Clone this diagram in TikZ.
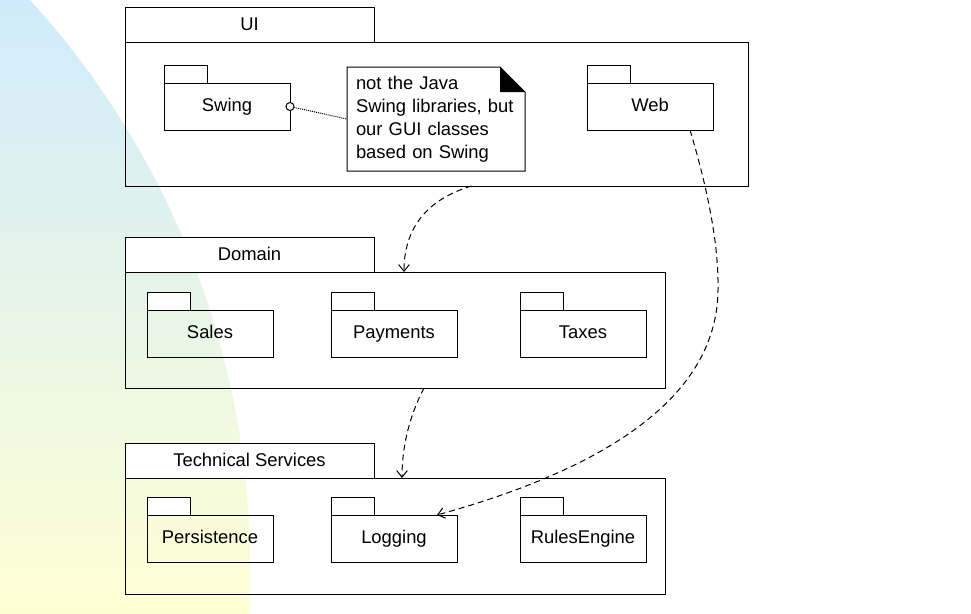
\documentclass[tikz,border=0pt]{standalone}
\usepackage{fontspec}
\setmainfont{Liberation Sans}
\usetikzlibrary{arrows.meta,positioning,calc}
\definecolor{skytop}{RGB}{208,235,252}
\definecolor{skymid}{RGB}{236,247,242}
\definecolor{sandbot}{RGB}{255,255,212}
\tikzset{
  umlfont/.style={font=\fontsize{13.8pt}{17.25pt}\selectfont},
  layerbody/.style={draw, line width=0.75pt, inner sep=0pt, outer sep=0pt,
    anchor=north west, minimum width=405pt, minimum height=87pt},
  layertab/.style={draw, fill=white, line width=0.75pt, inner sep=0pt, outer sep=0pt,
    minimum width=186.75pt, minimum height=26.25pt, text height=11pt, text depth=2.5pt, umlfont},
  subbody/.style={draw, line width=0.75pt, inner sep=0pt, outer sep=0pt,
    anchor=north west, minimum width=94.5pt, minimum height=35.25pt,
    text height=10pt, text depth=3pt, umlfont},
  subtab/.style={draw, fill=white, line width=0.75pt, inner sep=0pt, outer sep=0pt,
    minimum width=32.25pt, minimum height=13.5pt},
  notebox/.style={inner xsep=6.75pt, inner ysep=0pt, outer sep=0pt, anchor=north west,
    minimum width=133.5pt, minimum height=78pt, text width=120pt, align=left, umlfont},
  lolly/.style={circle, draw, fill=white, line width=0.75pt, inner sep=0pt, minimum size=6pt},
  notelink/.style={line width=0.75pt, dash pattern=on 0.75pt off 0.75pt},
  dep/.style={line width=0.75pt, dash pattern=on 4.5pt off 3pt,
    -{Straight Barb[length=5pt,width=8pt]}}
}

\begin{document}
\begin{tikzpicture}[x=0.75pt, y=-0.75pt]
    \useasboundingbox (0,0) rectangle (971,614);
    \fill[white] (0,0) rectangle (971,614);
    \begin{scope}
      \clip (-593,568) circle (843);
      \shade[top color=skytop, middle color=skymid, bottom color=sandbot] (0,0) rectangle (971,614);
    \end{scope}

    \node[layerbody, minimum width=467.25pt, minimum height=108pt] (ui) at (125,42) {};
    \node[layertab, above right=0pt and 0pt of ui.north west] (uitab) {UI};
    \node[subbody] (swing) at (164,83) {Swing};
    \node[subtab, above right=0pt and 0pt of swing.north west] (swingtab) {};
    \node[subbody] (web) at (587,83) {Web};
    \node[subtab, above right=0pt and 0pt of web.north west] (webtab) {};
    \node[notebox] (note) at (347,67) {not the Java\\Swing libraries, but\\our GUI classes\\based on Swing};
    \draw[line width=0.75pt] (note.north west) -- ($(note.north east)+(-25,0)$)
      -- ($(note.north east)+(0,25)$) -- (note.south east) -- (note.south west) -- cycle;
    \fill ($(note.north east)+(-25,0)$) -- ($(note.north east)+(-25,25)$) -- ($(note.north east)+(0,25)$) -- cycle;
    \node[lolly] (swinglink) at (swing.east) {};

    \node[layerbody] (domain) at (125,272) {};
    \node[layertab, above right=0pt and 0pt of domain.north west] (domaintab) {Domain};
    \node[subbody] (sales) at (147,310) {Sales};
    \node[subtab, above right=0pt and 0pt of sales.north west] (salestab) {};
    \node[subbody] (payments) at (331,310) {Payments};
    \node[subtab, above right=0pt and 0pt of payments.north west] (paymentstab) {};
    \node[subbody] (taxes) at (520,310) {Taxes};
    \node[subtab, above right=0pt and 0pt of taxes.north west] (taxestab) {};

    \node[layerbody] (tech) at (125,478) {};
    \node[layertab, above right=0pt and 0pt of tech.north west] (techtab) {Technical Services};
    \node[subbody] (persistence) at (147,515) {Persistence};
    \node[subtab, above right=0pt and 0pt of persistence.north west] (persistencetab) {};
    \node[subbody] (logging) at (331,515) {Logging};
    \node[subtab, above right=0pt and 0pt of logging.north west] (loggingtab) {};
    \node[subbody] (rules) at (520,515) {RulesEngine};
    \node[subtab, above right=0pt and 0pt of rules.north west] (rulestab) {};

    \draw[notelink] (swinglink) -- (note.west);
    \draw[dep] ($(ui.south)+(35,0)$) .. controls (425,200) and (404,230) .. ($(domain.north)+(9,0)$);
    \draw[dep] ($(domain.south)+(29,0)$) .. controls (410,415) and (402,445) .. ($(tech.north)+(7,0)$);
    \draw[dep] ($(web.south)+(40,0)$) .. controls (705,180) and (719,240) .. (718,290)
      .. controls (717,400) and (600,470) .. ($(logging.north east)+(-20,0)$);
  \end{tikzpicture}
\end{document}
